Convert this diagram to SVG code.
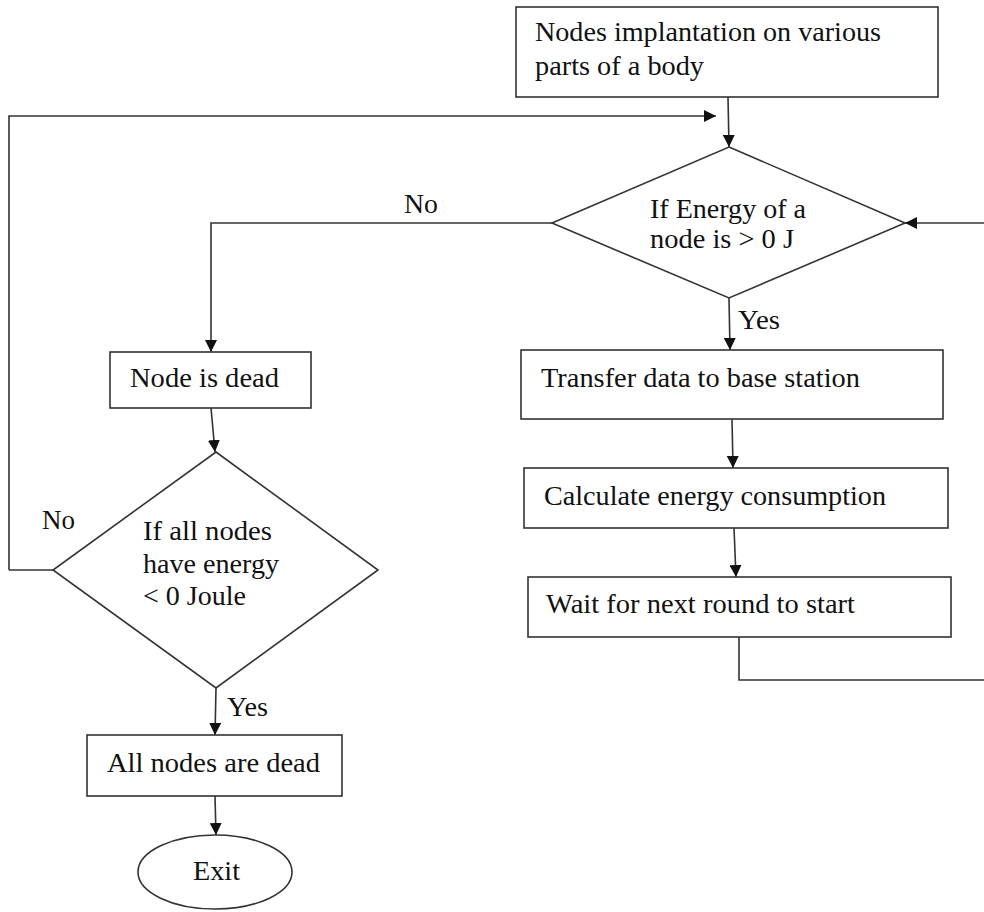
<svg xmlns="http://www.w3.org/2000/svg" width="984" height="912" viewBox="0 0 984 912">
<style>
.box{fill:#fff;stroke:#333;stroke-width:1.6}
.ln{fill:none;stroke:#333;stroke-width:1.6}
.arr{marker-end:url(#ah)}
text{font-family:"Liberation Serif","Times New Roman",serif;font-size:26.5px;fill:#111}
</style>
<defs>
<marker id="ah" markerUnits="userSpaceOnUse" markerWidth="12" markerHeight="12" refX="12" refY="6" orient="auto">
<path d="M0,0 L12,6 L0,12 z" fill="#111"/>
</marker>
</defs>
<g id="connectors">
<path class="ln arr" d="M728,97 L729,147"/>
<path class="ln arr" d="M9,570 L9,116 L716,116"/>
<path class="ln arr" d="M552,223 L211,223 L211,352"/>
<path class="ln arr" d="M984,223 L905,223"/>
<path class="ln arr" d="M729,298 L730,350"/>
<path class="ln arr" d="M732,419 L733,468"/>
<path class="ln arr" d="M734,528 L736,577"/>
<path class="ln" d="M739,637 L739,680 L984,680"/>
<path class="ln arr" d="M211,408 L215,452"/>
<path class="ln" d="M53,570 L9,570"/>
<path class="ln arr" d="M216,688 L215,735"/>
<path class="ln arr" d="M215,796 L216,835"/>
<text x="404" y="213" textLength="34" lengthAdjust="spacingAndGlyphs">No</text>
<text x="738" y="329" textLength="42" lengthAdjust="spacingAndGlyphs">Yes</text>
<text x="42" y="529" textLength="33" lengthAdjust="spacingAndGlyphs">No</text>
<text x="227" y="716" textLength="41" lengthAdjust="spacingAndGlyphs">Yes</text>
</g>
<g id="n-start">
<rect class="box" x="516" y="7" width="422" height="90"/>
<text x="535" y="41" textLength="346" lengthAdjust="spacingAndGlyphs">Nodes implantation on various</text>
<text x="535" y="75" textLength="169" lengthAdjust="spacingAndGlyphs">parts of a body</text>
</g>
<g id="n-check-energy">
<polygon class="box" points="729,147 905,223 729,298 552,223"/>
<text x="650" y="218" textLength="156" lengthAdjust="spacingAndGlyphs">If Energy of a</text>
<text x="650" y="248" textLength="144" lengthAdjust="spacingAndGlyphs">node is &gt; 0 J</text>
</g>
<g id="n-dead">
<rect class="box" x="110" y="352" width="201" height="56"/>
<text x="130" y="387" textLength="149" lengthAdjust="spacingAndGlyphs">Node is dead</text>
</g>
<g id="n-check-all">
<polygon class="box" points="216,452 378,570 216,688 53,570"/>
<text x="143" y="540" textLength="129" lengthAdjust="spacingAndGlyphs">If all nodes</text>
<text x="143" y="573" textLength="136" lengthAdjust="spacingAndGlyphs">have energy</text>
<text x="143" y="605" textLength="103" lengthAdjust="spacingAndGlyphs">&lt; 0 Joule</text>
</g>
<g id="n-all-dead">
<rect class="box" x="87" y="735" width="255" height="61"/>
<text x="107" y="772" textLength="213" lengthAdjust="spacingAndGlyphs">All nodes are dead</text>
</g>
<g id="n-exit">
<ellipse class="box" cx="215" cy="872" rx="77" ry="37"/>
<text x="193" y="880" textLength="47" lengthAdjust="spacingAndGlyphs">Exit</text>
</g>
<g id="n-transfer">
<rect class="box" x="521" y="350" width="422" height="69"/>
<text x="541" y="387" textLength="319" lengthAdjust="spacingAndGlyphs">Transfer data to base station</text>
</g>
<g id="n-calc">
<rect class="box" x="524" y="468" width="424" height="60"/>
<text x="544" y="505" textLength="342" lengthAdjust="spacingAndGlyphs">Calculate energy consumption</text>
</g>
<g id="n-wait">
<rect class="box" x="528" y="577" width="423" height="60"/>
<text x="546" y="613" textLength="309" lengthAdjust="spacingAndGlyphs">Wait for next round to start</text>
</g>
</svg>
